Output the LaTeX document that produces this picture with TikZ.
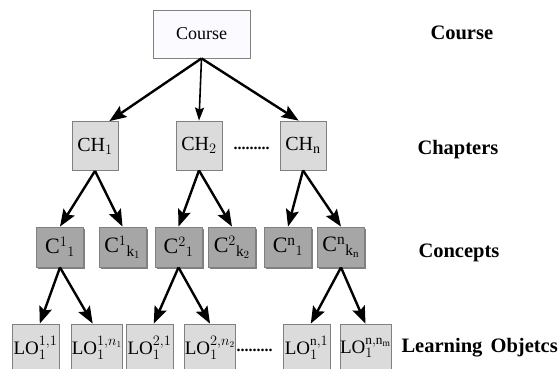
\documentclass[tikz,border=0pt]{standalone}
\usepackage{fontspec}
\setmainfont{Liberation Serif}
\usepackage{tikz}
\usetikzlibrary{arrows.meta}
\usetikzlibrary{shadows}
\tikzset{
  box/.style={draw=black!50, line width=0.8pt, inner sep=0pt},
  coursebox/.style={box, fill=blue!2, minimum width=97pt, minimum height=48pt, font=\fontsize{18}{20}\selectfont},
  chbox/.style={box, fill=black!14, minimum width=46pt, minimum height=49pt, font=\fontsize{20}{22}\selectfont},
  conbox/.style={box, fill=black!35, minimum width=47pt, minimum height=40pt, font=\fontsize{22}{24}\selectfont,
    drop shadow={shadow xshift=1.5pt, shadow yshift=-1.5pt, fill=black!70, opacity=.7}},
  lobox/.style={box, fill=black!14, minimum width=47pt, minimum height=48pt, font=\fontsize{19}{21}\selectfont},
  level/.style={anchor=west, font=\fontsize{20.5}{23}\selectfont\bfseries},
  more/.style={font=\fontsize{16}{18}\selectfont\bfseries, inner sep=0pt},
  link/.style={-{Stealth[length=17pt, width=13pt, inset=3pt]}, line width=2.4pt},
  thinlink/.style={-{Stealth[length=13pt, width=9pt, inset=2pt]}, line width=1.6pt}
}
\begin{document}
\begin{tikzpicture}[x=1pt,y=-1pt]
\clip (0,0) rectangle (560,368);
\fill[white] (0,0) rectangle (560,368);
% top
\node[coursebox] (course) at (201.5,34) {Course};
% chapters
\node[chbox] (ch1) at (95,146) {$\mathrm{CH}_1$};
\node[chbox] (ch2) at (199,145.5) {$\mathrm{CH}_2$};
\node[chbox] (chn) at (303,145.5) {$\mathrm{CH}_\mathrm{n}$};
\node[more] (chdots) at (251.5,148) {.........};
% concepts
\node[conbox] (c11) at (60,247) {$\mathrm{C}^1{}_1$};
\node[conbox] (c1k) at (122.5,247) {$\mathrm{C}^1{}_{\mathrm{k}_1}$};
\node[conbox] (c21) at (178.5,247) {$\mathrm{C}^2{}_1$};
\node[conbox] (c2k) at (232,247) {$\mathrm{C}^2{}_{\mathrm{k}_2}$};
\node[conbox] (cn1) at (288,247) {$\mathrm{C}^\mathrm{n}{}_1$};
\node[conbox] (cnk) at (341,247) {$\mathrm{C}^\mathrm{n}{}_{\mathrm{k}_\mathrm{n}}$};
% learning objects
\node[lobox] (lo11) at (35.5,348) {$\mathrm{LO}^{1,1}_1$};
\node[lobox] (lo1n) at (97,348) {$\mathrm{LO}^{1,n_1}_1$};
\node[lobox] (lo21) at (149.5,348) {$\mathrm{LO}^{2,1}_1$};
\node[lobox] (lo2n) at (210,348) {$\mathrm{LO}^{2,n_2}_1$};
\node[more] (lodots) at (254.5,350) {.........};
\node[lobox] (lon1) at (306.5,348) {$\mathrm{LO}^{\mathrm{n},1}_1$};
\node[lobox] (lonn) at (365.5,348) {$\mathrm{LO}^{\mathrm{n},\mathrm{n}_\mathrm{m}}_1$};
% levels
\node[level] (lcourse) at (427,33) {Course};
\node[level] (lchap) at (414,150) {Chapters};
\node[level] (lcon) at (415,253) {Concepts};
\node[level] (llo) at (398,348) {Learning\hspace{0.4em}Objetcs};
% arrows
\draw[link] (course.south) -- (ch1.60);
\draw[thinlink] (course.south) -- (ch2.north);
\draw[link] (course.south) -- (chn.100);
\draw[link] (ch1.south) -- (c11.north);
\draw[link] (ch1.south) -- (c1k.north);
\draw[link] (ch2.south) -- (c21.north);
\draw[link] (ch2.south) -- (c2k.north);
\draw[link] (chn.south) -- (cn1.north);
\draw[link] (chn.south) -- (cnk.north);
\draw[link] (c11.south) -- (lo11.80);
\draw[link] (c11.south) -- (lo1n.100);
\draw[link] (c21.south) -- (lo21.80);
\draw[link] (c21.south) -- (lo2n.north);
\draw[link] (cnk.south) -- (lon1.80);
\draw[link] (cnk.south) -- (lonn.north);
\end{tikzpicture}
\end{document}
